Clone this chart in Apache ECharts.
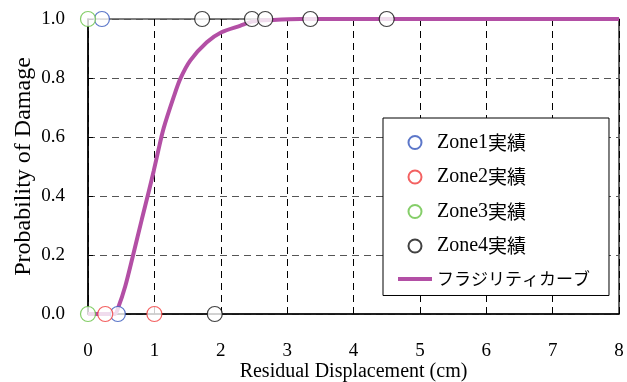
<!DOCTYPE html>
<html>
<head>
<meta charset="utf-8">
<script src="https://cdn.jsdelivr.net/npm/echarts@6/dist/echarts.min.js"></script>
<style>
  html, body { margin: 0; padding: 0; background: #fff; }
  #chart { width: 627px; height: 382px; }
</style>
</head>
<body>
<div id="chart"></div>
<script>
// Observed damage records: [residual displacement (cm), damage state 0/1]
const zone1 = [[0.21, 1], [0.45, 0]];
const zone2 = [[0.26, 0], [1.0, 0]];
const zone3 = [[0.0, 1], [0.0, 0]];
const zone4 = [[1.72, 1], [2.47, 1], [2.67, 1], [3.35, 1], [4.5, 1], [1.91, 0]];

// Fragility curve samples
const curveX = [0, 0.4, 0.46, 0.56, 0.68, 0.81, 0.91, 0.99, 1.06, 1.14, 1.29, 1.39, 1.54, 1.79, 2.01, 2.29, 2.49, 2.79, 3.2, 8];
const curveP = [0, 0, 0.025, 0.093, 0.2, 0.32, 0.41, 0.485, 0.555, 0.63, 0.735, 0.797, 0.859, 0.921, 0.955, 0.977, 0.992, 0.997, 1.0, 1.0];

const seriesNames = ['Zone1実績', 'Zone2実績', 'Zone3実績', 'Zone4実績', 'フラジリティカーブ'];
const markerColors = ['#3355bb', '#f03a3a', '#66c244', '#111111'];
const curveColor = '#b34fa5';

const serif = '"Liberation Serif", "Times New Roman", "Noto Sans CJK JP", serif';
const cjk = '"Noto Sans CJK JP", sans-serif';

const chart = echarts.init(document.getElementById('chart'), null, { renderer: 'canvas' });

const scatter = (name, data, color) => ({
  name: name,
  type: 'scatter',
  data: data,
  symbol: 'circle',
  symbolSize: 15,
  z: 5,
  itemStyle: { color: '#ffffff', borderColor: color, borderWidth: 1.2 },
  emphasis: { disabled: true }
});

// Latin runs in a serif face; kanji full size, kana a little narrower
const legendLabel = name => {
  let out = '';
  const parts = name.match(/[A-Za-z0-9]+|[\u4e00-\u9fff]+|[^A-Za-z0-9\u4e00-\u9fff]+/g) || [];
  parts.forEach(p => {
    if (/^[A-Za-z0-9]/.test(p)) out += '{a|' + p + '}';
    else if (/^[\u4e00-\u9fff]/.test(p)) out += '{k|' + p + '}';
    else out += '{b|' + p + '}';
  });
  return out;
};

chart.setOption({
  animation: false,
  backgroundColor: '#ffffff',
  grid: {
    left: 88, right: 8, top: 19, bottom: 68,
    outerBoundsMode: 'none',
    containLabel: false,
    show: true, borderColor: '#000', borderWidth: 1.2, backgroundColor: 'transparent'
  },
  xAxis: {
    type: 'value', min: 0, max: 8, interval: 1,
    name: 'Residual Displacement (cm)',
    nameLocation: 'middle', nameGap: 48,
    nameMoveOverlap: false,
    nameTextStyle: { fontFamily: serif, fontSize: 20, color: '#000' },
    axisLine: { show: true, onZero: false, lineStyle: { color: '#000', width: 1.5 } },
    axisTick: { show: true, inside: true, length: 5, lineStyle: { color: '#000' } },
    axisLabel: { fontFamily: serif, fontSize: 19, color: '#000', margin: 28 },
    splitLine: { show: true, lineStyle: { color: '#000', type: [7, 5], width: 1 } }
  },
  yAxis: {
    type: 'value', min: 0, max: 1, interval: 0.2,
    name: 'Probability of Damage',
    nameLocation: 'middle', nameGap: 52,
    nameMoveOverlap: false,
    nameTextStyle: { fontFamily: serif, fontSize: 24, color: '#000' },
    axisLine: { show: true, lineStyle: { color: '#000', width: 1.5 } },
    axisTick: { show: true, inside: true, length: 5, lineStyle: { color: '#000' } },
    axisLabel: { fontFamily: serif, fontSize: 19, color: '#000', margin: 23,
      formatter: v => v.toFixed(1) },
    splitLine: { show: true, lineStyle: { color: '#555', type: [7, 5], width: 1 } }
  },
  legend: {
    orient: 'vertical',
    left: 383, top: 118,
    padding: [14.5, 19, 8, 15],
    itemGap: 14.5,
    itemWidth: 34, itemHeight: 13,
    backgroundColor: '#ffffff',
    borderColor: '#000', borderWidth: 1,
    formatter: legendLabel,
    textStyle: {
      color: '#000',
      rich: {
        a: { fontFamily: serif, fontSize: 20, color: '#000' },
        k: { fontFamily: cjk, fontSize: 19, color: '#000' },
        b: { fontFamily: cjk, fontSize: 17, color: '#000' }
      }
    },
    data: seriesNames.slice(0, 4).map(n => ({ name: n })).concat([
      { name: seriesNames[4], icon: 'path://M0,0L34,0L34,4L0,4Z', itemStyle: { color: curveColor } }
    ])
  },
  series: [
    scatter(seriesNames[0], zone1, markerColors[0]),
    scatter(seriesNames[1], zone2, markerColors[1]),
    scatter(seriesNames[2], zone3, markerColors[2]),
    scatter(seriesNames[3], zone4, markerColors[3]),
    {
      name: seriesNames[4],
      type: 'line',
      data: curveX.map((x, i) => [x, curveP[i]]),
      symbol: 'none',
      smooth: 0.3,
      z: 3,
      lineStyle: { color: curveColor, width: 4 },
      itemStyle: { color: curveColor },
      emphasis: { disabled: true }
    }
  ]
});
</script>
</body>
</html>
